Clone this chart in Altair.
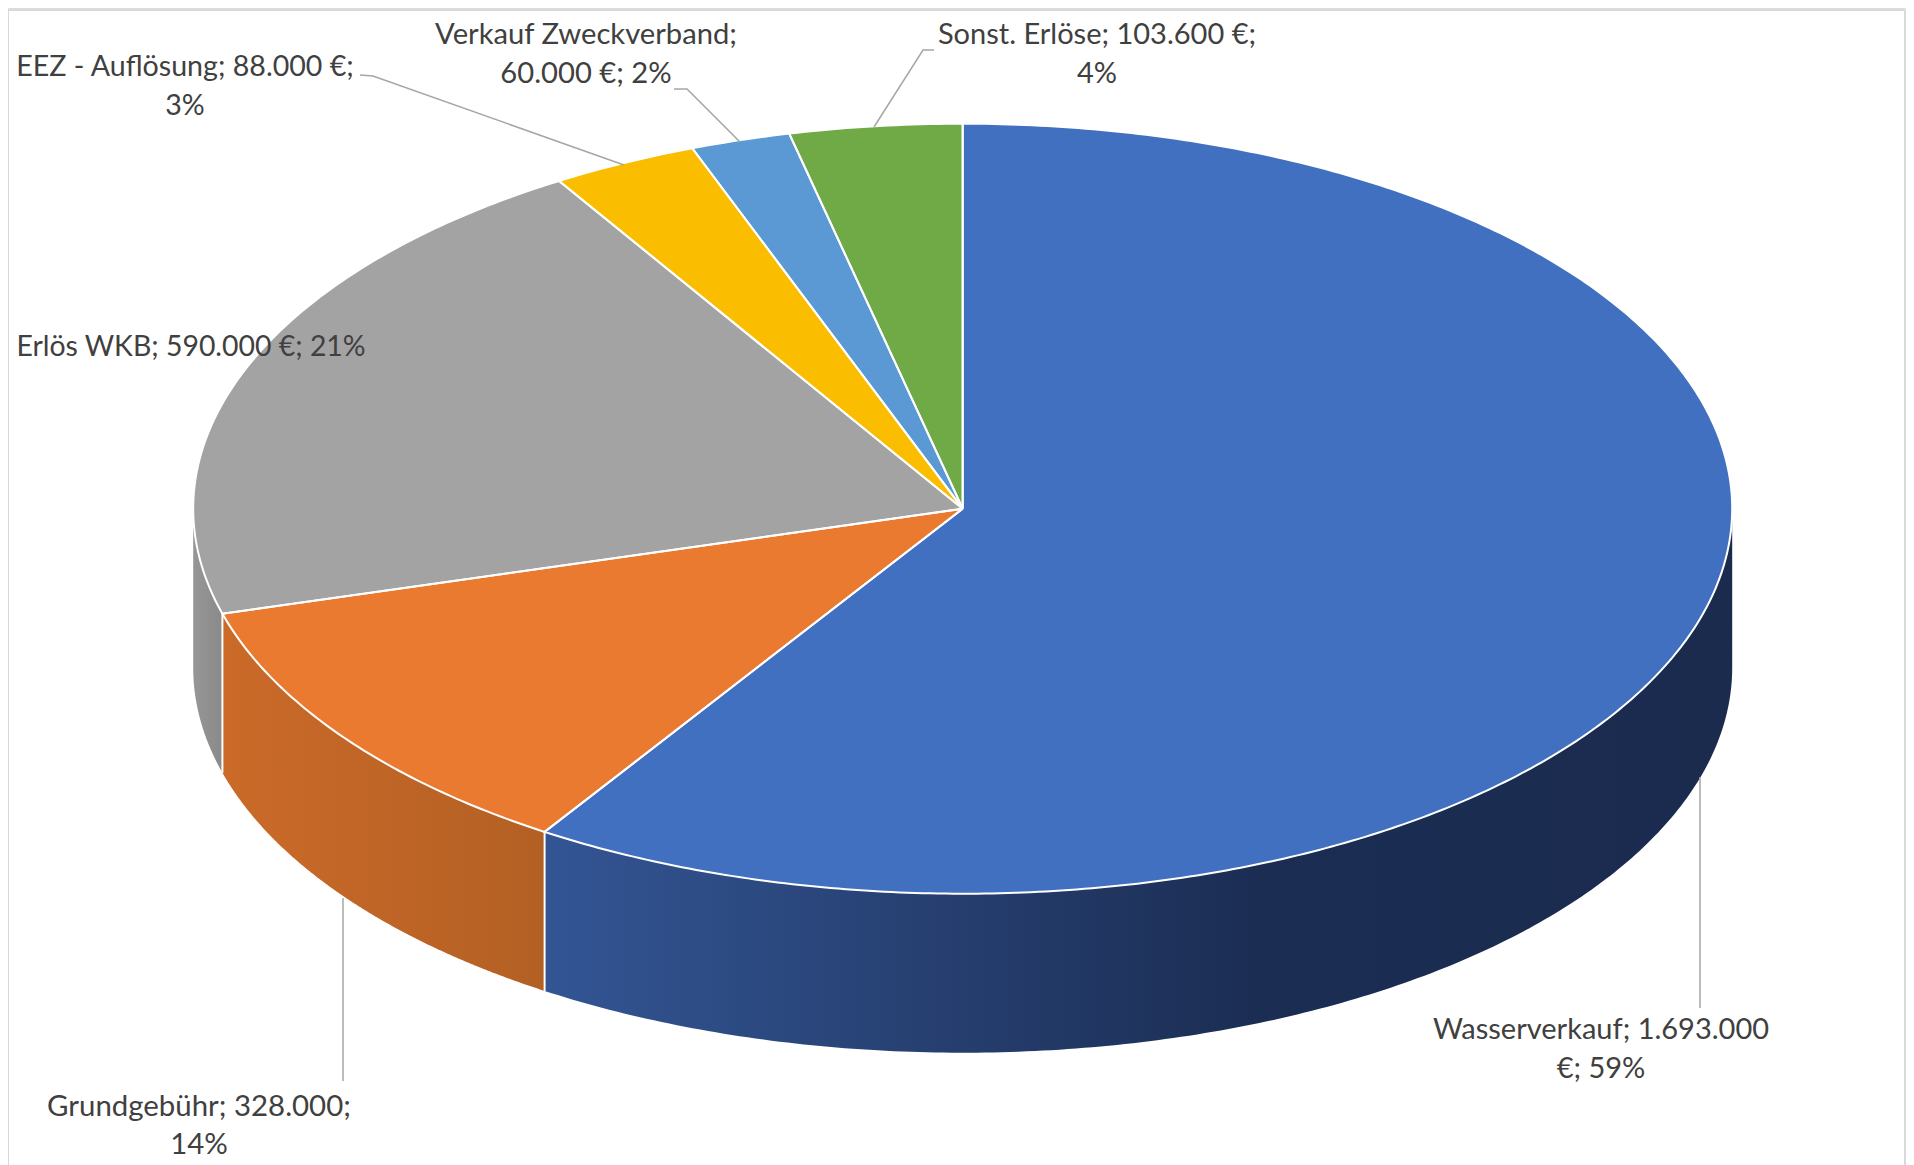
import numpy as np
import pandas as pd
import altair as alt

# ---- chart values ----
categories = ["Wasserverkauf", "Grundgebühr", "Erlös WKB", "EEZ - Auflösung", "Verkauf Zweckverband", "Sonst. Erlöse"]
values = [1693000, 328000, 590000, 88000, 60000, 103600]
colors = ["#4270C0", "#EA7A30", "#A3A3A3", "#FBBD00", "#5A99D3", "#6FAA46"]

label_lines = [
    "Wasserverkauf; 1.693.000", "€; 59%",
    "Grundgebühr; 328.000;", "14%",
    "Erlös WKB; 590.000 €; 21%",
    "EEZ - Auflösung; 88.000 €;", "3%",
    "Verkauf Zweckverband;", "60.000 €; 2%",
    "Sonst. Erlöse; 103.600 €;", "4%",
]
label_x = [1601, 1601, 199, 199, 191, 185, 185, 586, 586, 1097, 1097]
label_y = [1029.5, 1069, 1107, 1145, 346.5, 67, 106, 35, 74, 35, 74]
label_size = [29, 29, 29.4, 29.4, 28.4, 28.6, 28.6, 29.2, 29.2, 29, 29]

leader_id = ["w", "w", "g", "g", "e", "e", "e", "v", "v", "v", "s", "s", "s"]
leader_x = [1700, 1700, 343, 343, 360, 373, 624, 674, 687, 740, 934, 923, 874]
leader_y = [777, 1008, 898, 1081, 75, 76, 165, 89, 89, 142, 50, 50, 127]

frame_id = ["t", "t", "l", "l", "r", "r"]
frame_x = [8, 1905, 8, 8, 1905, 1905]
frame_y = [10, 10, 10, 1165, 10, 1165]

# ---- pie geometry (derived from the values) ----
CX, CY, A, B, DEPTH = 962.7, 508.7, 769.5, 385.0, 159.0
W, H = 1898, 1157

total = float(sum(values))
edges = np.concatenate([[0.0], np.cumsum(values) / total]) * 2 * np.pi


def ell(t):
    return CX + A * np.sin(t), CY - B * np.cos(t)


def span_frame(xs, top, bot):
    return pd.DataFrame({"x": xs, "y": top, "y2": bot})


def sector_frame(t0, t1):
    n = max(8, int((t1 - t0) / 0.01))
    ts = np.linspace(t0, t1, n)
    px, py = ell(ts)
    vx = np.concatenate([[CX], px])
    vy = np.concatenate([[CY], py])
    xs = np.unique(np.round(vx, 3))
    top, bot = [], []
    m = len(vx)
    for x in xs:
        hits = []
        for i in range(m):
            x0, y0, x1, y1 = vx[i], vy[i], vx[(i + 1) % m], vy[(i + 1) % m]
            if abs(x1 - x0) < 1e-3:
                if abs(x - x0) < 2e-3:
                    hits += [y0, y1]
            elif min(x0, x1) - 2e-3 <= x <= max(x0, x1) + 2e-3:
                hits.append(y0 + (x - x0) / (x1 - x0) * (y1 - y0))
        top.append(min(hits))
        bot.append(max(hits))
    return span_frame(xs, top, bot)


X = alt.X("x:Q", scale=alt.Scale(domain=[8, 8 + W], nice=False, zero=False), axis=None)
Y = alt.Y("y:Q", scale=alt.Scale(domain=[8, 8 + H], reverse=True, nice=False, zero=False), axis=None)
Y2 = alt.Y2("y2:Q")

layers = []

# side walls (only the front half, clockwise angles 90..270 degrees)
wall_stops = [
    [(0, "#335594"), (0.38, "#243c6b"), (0.6, "#1b2d53"), (1, "#1a2b4e")],
    [(0, "#cb6a29"), (1, "#b36024")],
    [(0, "#969696"), (1, "#8a8a8a")],
]
for i, stops in enumerate(wall_stops):
    t0 = max(edges[i], np.pi / 2)
    t1 = min(edges[i + 1], 3 * np.pi / 2)
    ts = np.linspace(t0, t1, 200)
    px, py = ell(ts)
    df = span_frame(px, py, py + DEPTH).sort_values("x")
    grad = alt.Gradient(
        gradient="linear", x1=0, x2=1, y1=0, y2=0,
        stops=[alt.GradientStop(offset=o, color=c) for o, c in stops],
    )
    layers.append(alt.Chart(df).mark_area(color=grad).encode(x=X, y=Y, y2=Y2))

# top face
for i, c in enumerate(colors):
    layers.append(alt.Chart(sector_frame(edges[i], edges[i + 1])).mark_area(color=c).encode(x=X, y=Y, y2=Y2))

# white outlines
rows = []
for i in range(len(values)):
    ts = np.linspace(edges[i], edges[i + 1], max(8, int((edges[i + 1] - edges[i]) / 0.01)))
    px, py = ell(ts)
    xs = [CX] + list(px) + [CX]
    ys = [CY] + list(py) + [CY]
    rows += [{"g": f"s{i}", "o": k, "x": a, "y": b} for k, (a, b) in enumerate(zip(xs, ys))]
for i in (1, 2):
    px, py = ell(edges[i])
    rows += [{"g": f"w{i}", "o": 0, "x": px, "y": py}, {"g": f"w{i}", "o": 1, "x": px, "y": py + DEPTH}]
outline = pd.DataFrame(rows)
layers.append(
    alt.Chart(outline).mark_line(color="#ffffff", strokeWidth=2).encode(
        x=X, y=Y, detail="g:N", order="o:Q"
    )
)

# leader lines
leaders = pd.DataFrame({"g": leader_id, "x": leader_x, "y": leader_y, "o": range(len(leader_id))})
layers.append(
    alt.Chart(leaders).mark_line(color="#a6a6a6", strokeWidth=1.5).encode(
        x=X, y=Y, detail="g:N", order="o:Q"
    )
)

# frame
frame = pd.DataFrame({"g": frame_id, "x": frame_x, "y": frame_y, "o": range(len(frame_id))})
layers.append(
    alt.Chart(frame).mark_line(color="#d9d9d9", strokeWidth=2).encode(
        x=X, y=Y, detail="g:N", order="o:Q"
    )
)

# labels
labels = pd.DataFrame({"t": label_lines, "x": label_x, "y": label_y, "fs": label_size})
layers.append(
    alt.Chart(labels).mark_text(
        font="Lato", color="#404040", align="center", baseline="middle"
    ).encode(x=X, y=Y, text="t:N", size=alt.Size("fs:Q", scale=None, legend=None))
)

chart = (
    alt.layer(*layers)
    .properties(width=W, height=H, padding=0, autosize=alt.AutoSizeParams(type="none"))
    .configure_view(stroke=None)
    .configure(background="#ffffff")
)
chart.save("out.html", embed_options={"renderer": "svg", "actions": False})
